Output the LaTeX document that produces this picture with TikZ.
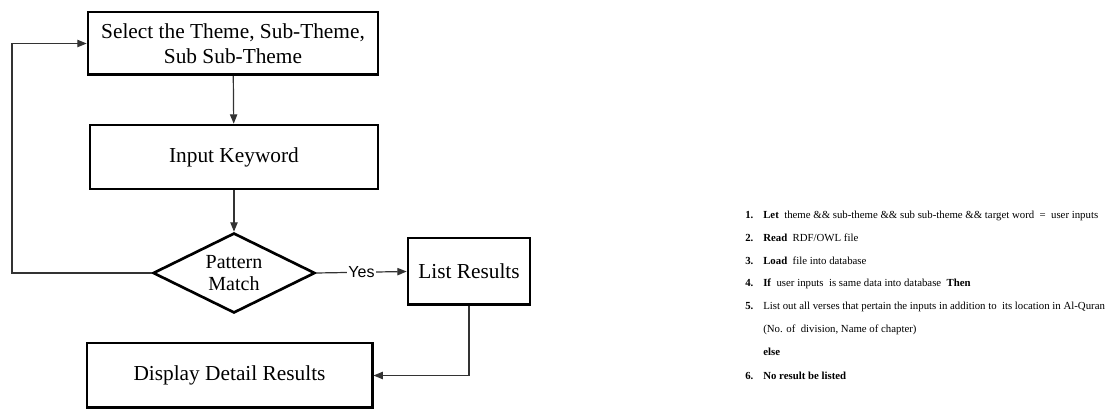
\documentclass[tikz,border=0pt]{standalone}
\usepackage{fontspec}
\setmainfont{Liberation Serif}
\newfontfamily\yesfont{Liberation Sans}
\usetikzlibrary{arrows.meta}
\usetikzlibrary{shapes,positioning}

\begin{document}
\begin{tikzpicture}[x=0.75pt, y=-0.75pt,
        box/.style={draw, line width=2pt, align=center, font=\fontsize{16}{19}\selectfont},
        link/.style={draw=black!80, line width=0.9pt},
        tip/.style={-{Triangle[length=7pt, width=5.5pt]}},
        algo/.style={anchor=base west, inner sep=0pt, font=\fontsize{8.1}{10}\selectfont}]
        \useasboundingbox (0,0) rectangle (1110,409);

        % Flow boxes
        \node[box, minimum width=217.5pt, minimum height=47pt] (theme) at (233,43.5)
            {Select the Theme, Sub-Theme,\\Sub Sub-Theme};
        \node[box, minimum width=216pt, minimum height=48pt] (keyword) at (234,157) {Input Keyword};
        \node[box, diamond, aspect=2, inner sep=0pt, minimum width=121.5pt, minimum height=60pt,
            font=\fontsize{15}{17}\selectfont] (match) at (234,273) {Pattern\\Match};
        \node[box, minimum width=91.5pt, minimum height=50pt] (list) at (469,271.5) {List Results};
        \node[box, minimum width=214pt, minimum height=48.5pt] (display) at (229.5,375.5)
            {Display Detail Results};

        % Connectors
        \coordinate (back) at (12,273);
        \draw[link, tip] (theme) -- (keyword);
        \draw[link, tip] (keyword) -- (match);
        \draw[link, tip] (match.west) -- (back) |- (theme.west);
        \draw[link, tip] (match.east) -- node[fill=white, inner sep=1pt, font=\yesfont\fontsize{12}{14}\selectfont] {Yes} (list.west);
        \draw[link, tip] (list.south) |- (display.east);

        % Algorithm steps
        \foreach \y/\num/\txt in {
            219/1./{\textbf{Let}\ \ theme \&\& sub-theme \&\& sub sub-theme \&\& target word\ \ =\ \ user inputs},
            242/2./{\textbf{Read}\ \ RDF/OWL file},
            265/3./{\textbf{Load}\ \ file into database},
            287/4./{\textbf{If}\ \ user inputs\ \ is same data into database\ \ \textbf{Then}},
            310/5./{List out all verses that pertain the inputs in addition to\ \ its location in Al-Quran},
            333//{(No. of\ \ division, Name of chapter)},
            356//{\textbf{else}},
            380/6./{\textbf{No result be listed}}
        } {
            \node[algo] at (745,\y) {\textbf{\num}};
            \node[algo] at (763,\y) {\txt};
        }
    \end{tikzpicture}
\end{document}
